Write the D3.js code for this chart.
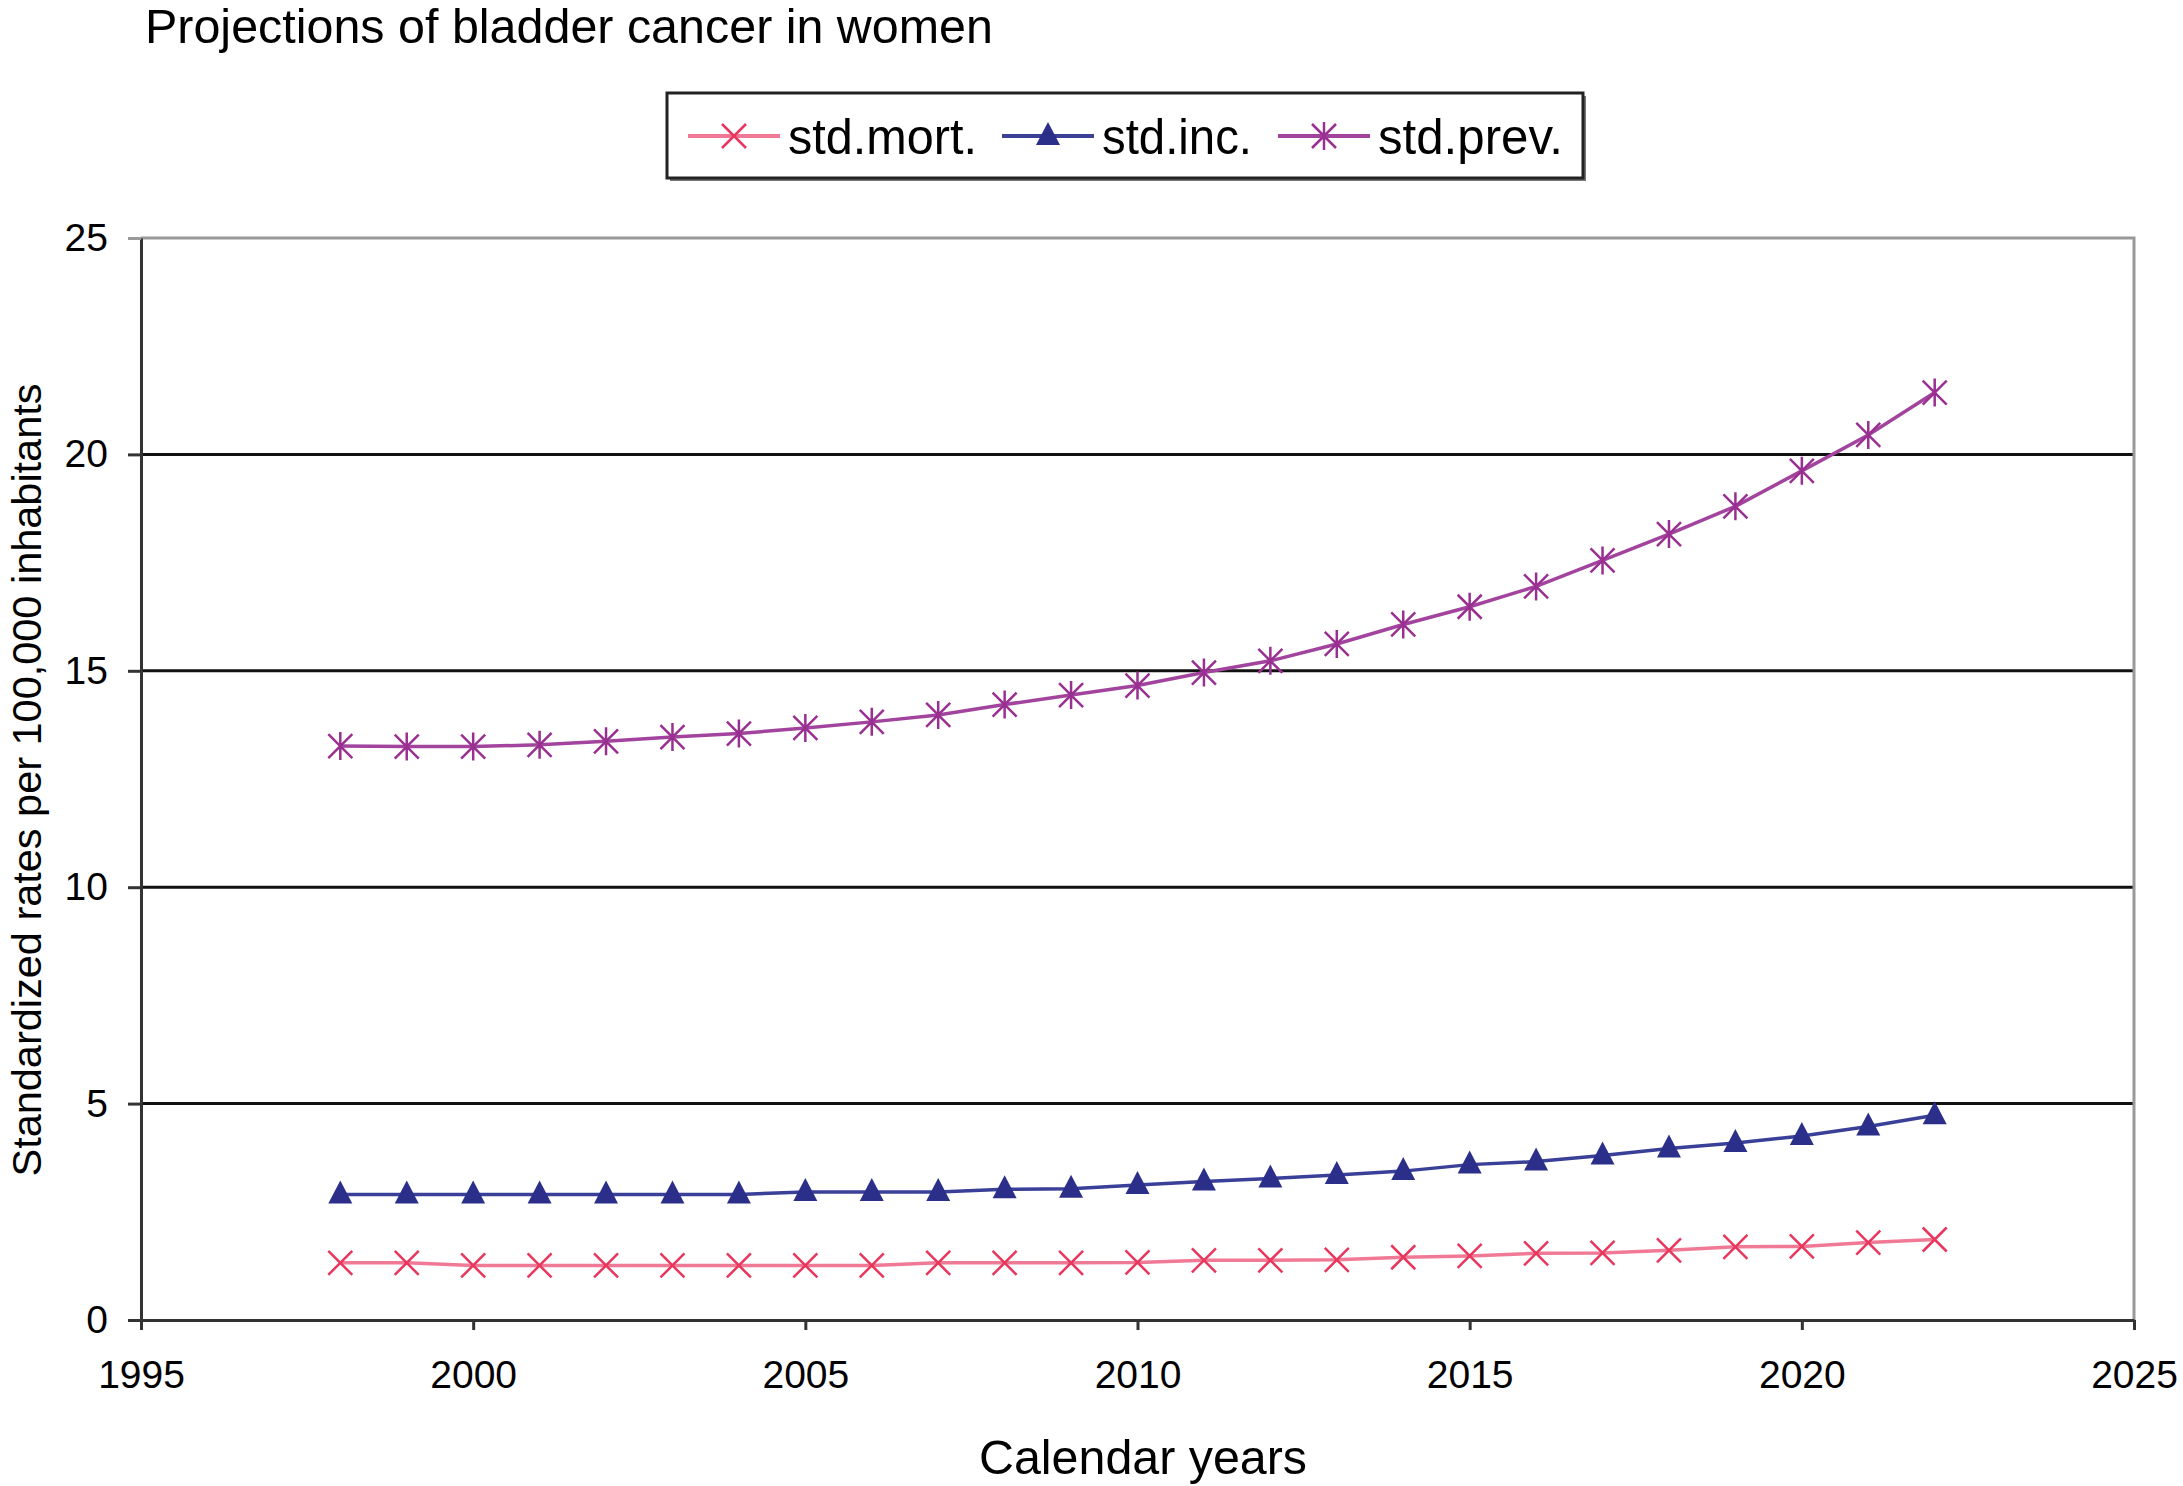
<!DOCTYPE html>
<meta charset="utf-8">
<body style="margin:0;background:#fff">
<div id="chart"></div>
<script src="https://d3js.org/d3.v7.min.js"></script>
<script>
// data
const years = [1998,1999,2000,2001,2002,2003,2004,2005,2006,2007,2008,2009,2010,
               2011,2012,2013,2014,2015,2016,2017,2018,2019,2020,2021,2022];
const stdMort = [1.32,1.32,1.26,1.26,1.26,1.26,1.26,1.26,1.26,1.32,1.32,1.32,1.33,
                 1.38,1.38,1.39,1.45,1.48,1.54,1.55,1.61,1.69,1.70,1.79,1.86];
const stdInc  = [2.90,2.90,2.90,2.90,2.90,2.90,2.90,2.96,2.96,2.96,3.02,3.03,3.12,
                 3.20,3.27,3.35,3.44,3.59,3.66,3.80,3.96,4.09,4.25,4.47,4.73];
const stdPrev = [13.26,13.25,13.25,13.29,13.37,13.47,13.55,13.68,13.82,13.98,14.22,14.44,14.66,
                 14.96,15.23,15.62,16.07,16.48,16.95,17.55,18.16,18.80,19.62,20.45,21.43];
const seriesNames = ["std.mort.", "std.inc.", "std.prev."];
const xTicks = [1995,2000,2005,2010,2015,2020,2025];
const yTicks = [0,5,10,15,20,25];

const width = 2183, height = 1486;
const svg = d3.select("#chart").append("svg")
    .attr("width", width).attr("height", height)
    .style("font-family", "'Liberation Sans', Arial, sans-serif");

const x = d3.scaleLinear().domain([1995, 2025]).range([141, 2134]);
const y = d3.scaleLinear().domain([0, 25]).range([1320, 238]);

// gridlines
svg.append("g").selectAll("line")
    .data(yTicks.filter(d => d > 0 && d < 25))
    .enter().append("line")
    .attr("x1", x(1995)).attr("x2", x(2025))
    .attr("y1", d => y(d)).attr("y2", d => y(d))
    .attr("stroke", "#111").attr("stroke-width", 3);

// top and right frame (grey)
svg.append("path")
    .attr("d", `M${x(1995)},${y(25)}H${x(2025)}V${y(0)}`)
    .attr("fill", "none").attr("stroke", "#999").attr("stroke-width", 3);

// axes
const yAxis = svg.append("g")
    .attr("transform", `translate(${x(1995)},0)`)
    .call(d3.axisLeft(y).tickValues(yTicks).tickSize(13).tickSizeOuter(0).tickPadding(20));
const xAxis = svg.append("g")
    .attr("transform", `translate(0,${y(0)})`)
    .call(d3.axisBottom(x).tickValues(xTicks).tickFormat(d3.format("d"))
          .tickSize(10).tickSizeOuter(0).tickPadding(30));
[yAxis, xAxis].forEach(a => {
  a.select(".domain").attr("stroke", "#333").attr("stroke-width", 3);
  a.selectAll(".tick line").attr("stroke", "#333").attr("stroke-width", 3);
  a.selectAll("text").attr("font-size", 39).attr("fill", "#000")
    .attr("font-family", "'Liberation Sans', Arial, sans-serif");
});
yAxis.select(".tick:last-of-type line").attr("stroke", "#999");

// series
const series = [
  {name: seriesNames[0], values: stdMort, line: "#f07a96", mark: "#e8365d", shape: "x"},
  {name: seriesNames[1], values: stdInc,  line: "#3a3f98", mark: "#2b2f8a", shape: "tri"},
  {name: seriesNames[2], values: stdPrev, line: "#a2449e", mark: "#9a2f92", shape: "star"}
];

function marker(g, s, cx, cy) {
  const r = 12;
  if (s.shape === "tri") {
    g.append("path")
      .attr("d", `M${cx},${cy - 14}L${cx + 12},${cy + 9}L${cx - 12},${cy + 9}Z`)
      .attr("fill", s.mark);
  } else {
    let d = `M${cx - r},${cy - r}L${cx + r},${cy + r}M${cx - r},${cy + r}L${cx + r},${cy - r}`;
    if (s.shape === "star") d += `M${cx},${cy - r - 2}V${cy + r + 2}`;
    g.append("path").attr("d", d).attr("stroke", s.mark).attr("stroke-width", 2.5).attr("fill", "none");
  }
}

const line = d3.line().x((d, i) => x(years[i])).y(d => y(d));
series.forEach(s => {
  const g = svg.append("g");
  g.append("path").datum(s.values)
    .attr("d", line).attr("fill", "none")
    .attr("stroke", s.line).attr("stroke-width", 3.5);
  s.values.forEach((v, i) => marker(g, s, x(years[i]), y(v)));
});

// title
svg.append("text")
  .attr("x", 145).attr("y", 43)
  .attr("font-size", 49)
  .attr("textLength", 848).attr("lengthAdjust", "spacingAndGlyphs")
  .text("Projections of bladder cancer in women");

// axis titles
svg.append("text")
  .attr("x", 1143).attr("y", 1474)
  .attr("text-anchor", "middle").attr("font-size", 48)
  .attr("textLength", 328).attr("lengthAdjust", "spacingAndGlyphs")
  .text("Calendar years");
svg.append("text")
  .attr("transform", "translate(41,780) rotate(-90)")
  .attr("text-anchor", "middle").attr("font-size", 40)
  .attr("textLength", 793).attr("lengthAdjust", "spacingAndGlyphs")
  .text("Standardized rates per 100,000 inhabitants");

// legend
const legend = svg.append("g");
legend.append("rect")
  .attr("x", 670).attr("y", 96).attr("width", 916).attr("height", 85)
  .attr("fill", "#777");
legend.append("rect")
  .attr("x", 667).attr("y", 93).attr("width", 916).attr("height", 85)
  .attr("fill", "#fff").attr("stroke", "#222").attr("stroke-width", 3);
const legendX = [688, 1002, 1278];
const legendW = [189, 150, 185];
series.forEach((s, i) => {
  const lx = legendX[i], ly = 136;
  legend.append("line")
    .attr("x1", lx).attr("x2", lx + 92).attr("y1", ly).attr("y2", ly)
    .attr("stroke", s.line).attr("stroke-width", 4);
  marker(legend, s, lx + 46, ly);
  legend.append("text")
    .attr("x", lx + 100).attr("y", ly + 18)
    .attr("font-size", 50)
    .attr("textLength", legendW[i]).attr("lengthAdjust", "spacingAndGlyphs")
    .text(s.name);
});
</script>
</body>
